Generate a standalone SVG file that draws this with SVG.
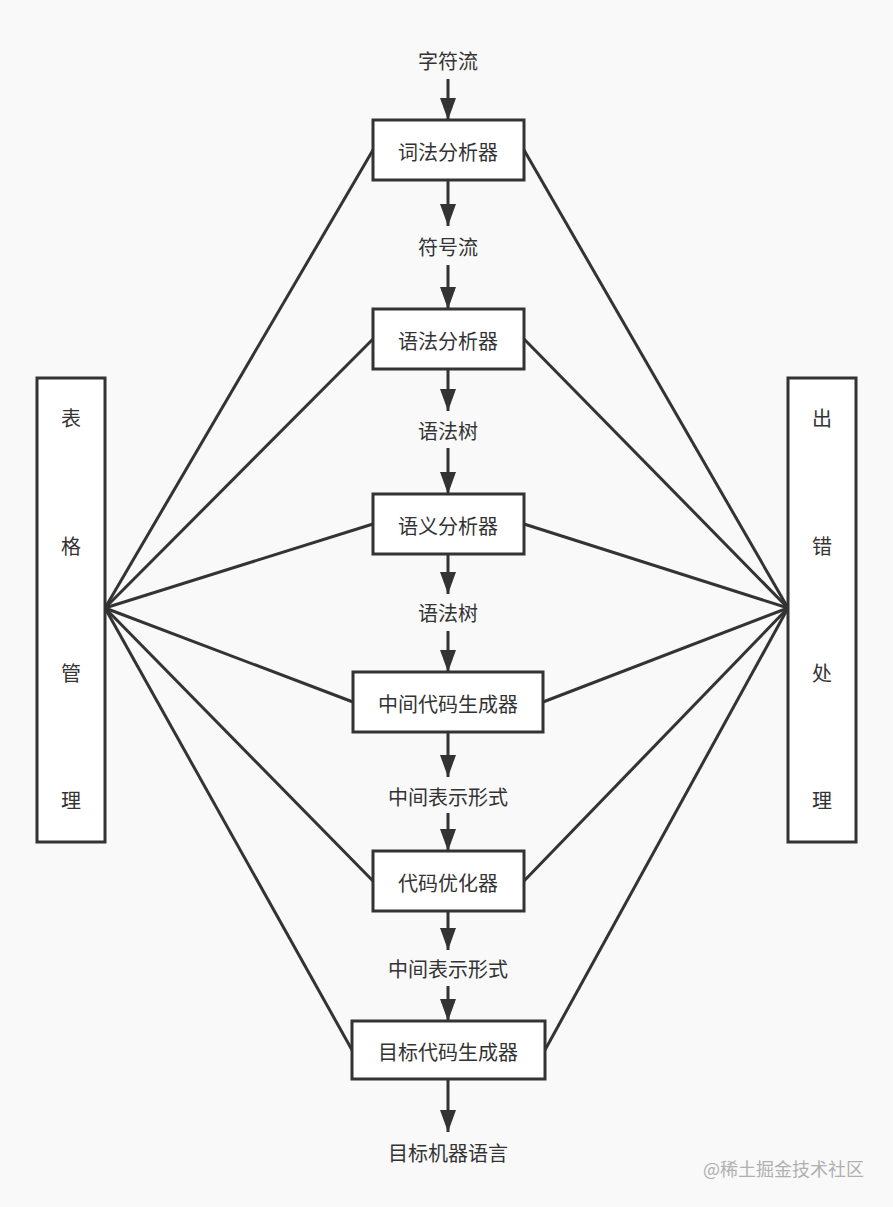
<svg xmlns="http://www.w3.org/2000/svg" width="893" height="1207" viewBox="0 0 893 1207">
<defs>
<marker id="ah" viewBox="0 0 22 16" refX="22" refY="8" markerWidth="22" markerHeight="16" markerUnits="userSpaceOnUse" orient="auto">
<path d="M0,0 L22,8 L0,16 Z" fill="#333"/>
</marker>
<style>
.box{fill:#fff;stroke:#333;stroke-width:3}
.t{font-family:"Noto Sans CJK SC","Noto Sans",sans-serif;font-size:20px;fill:#333;text-anchor:middle;dominant-baseline:central}
.ln{stroke:#333;stroke-width:3;fill:none}
.ar{stroke:#333;stroke-width:3;fill:none;marker-end:url(#ah)}
.wm{font-family:"Noto Sans CJK SC",sans-serif;font-size:18px;fill:#b0b0b0;dominant-baseline:central}
</style>
</defs>
<rect width="893" height="1207" fill="#f9f9f9"/>
<g id="connectors">
<line class="ln" x1="105" y1="608" x2="373" y2="150"/>
<line class="ln" x1="105" y1="608" x2="373" y2="339"/>
<line class="ln" x1="105" y1="608" x2="373" y2="524"/>
<line class="ln" x1="105" y1="608" x2="353" y2="702"/>
<line class="ln" x1="105" y1="608" x2="373" y2="881"/>
<line class="ln" x1="105" y1="608" x2="352" y2="1050"/>
<line class="ln" x1="788" y1="608" x2="524" y2="150"/>
<line class="ln" x1="788" y1="608" x2="524" y2="339"/>
<line class="ln" x1="788" y1="608" x2="524" y2="524"/>
<line class="ln" x1="788" y1="608" x2="543" y2="702"/>
<line class="ln" x1="788" y1="608" x2="524" y2="881"/>
<line class="ln" x1="788" y1="608" x2="545" y2="1050"/>
<line class="ar" x1="448" y1="79" x2="448" y2="120"/>
<line class="ar" x1="448" y1="180" x2="448" y2="226"/>
<line class="ar" x1="448" y1="265" x2="448" y2="309"/>
<line class="ar" x1="448" y1="369" x2="448" y2="411"/>
<line class="ar" x1="448" y1="448" x2="448" y2="494"/>
<line class="ar" x1="448" y1="554" x2="448" y2="594"/>
<line class="ar" x1="448" y1="631" x2="448" y2="672"/>
<line class="ar" x1="448" y1="732" x2="448" y2="777"/>
<line class="ar" x1="448" y1="813" x2="448" y2="851"/>
<line class="ar" x1="448" y1="911" x2="448" y2="950"/>
<line class="ar" x1="448" y1="986" x2="448" y2="1021"/>
<line class="ar" x1="448" y1="1079" x2="448" y2="1132"/>
</g>
<g id="labels">
<text class="t" x="448" y="60">字符流</text>
<text class="t" x="448" y="246">符号流</text>
<text class="t" x="448" y="430">语法树</text>
<text class="t" x="448" y="612">语法树</text>
<text class="t" x="448" y="796">中间表示形式</text>
<text class="t" x="448" y="968">中间表示形式</text>
<text class="t" x="448" y="1152">目标机器语言</text>
</g>
<g id="n1"><rect class="box" x="373" y="120" width="151" height="60"/><text class="t" x="448" y="151">词法分析器</text></g>
<g id="n2"><rect class="box" x="373" y="309" width="151" height="60"/><text class="t" x="448" y="340">语法分析器</text></g>
<g id="n3"><rect class="box" x="373" y="494" width="151" height="60"/><text class="t" x="448" y="525">语义分析器</text></g>
<g id="n4"><rect class="box" x="353" y="672" width="190" height="60"/><text class="t" x="448" y="703">中间代码生成器</text></g>
<g id="n5"><rect class="box" x="373" y="851" width="151" height="60"/><text class="t" x="448" y="882">代码优化器</text></g>
<g id="n6"><rect class="box" x="352" y="1021" width="193" height="58"/><text class="t" x="448" y="1051">目标代码生成器</text></g>
<g id="left"><rect class="box" x="37" y="378" width="68" height="464"/>
<text class="t" x="71" y="417">表</text><text class="t" x="71" y="545">格</text><text class="t" x="71" y="672">管</text><text class="t" x="71" y="799">理</text></g>
<g id="right"><rect class="box" x="788" y="378" width="68" height="464"/>
<text class="t" x="822" y="417">出</text><text class="t" x="822" y="545">错</text><text class="t" x="822" y="672">处</text><text class="t" x="822" y="799">理</text></g>
<text class="wm" x="703" y="1168">@稀土掘金技术社区</text>
</svg>
